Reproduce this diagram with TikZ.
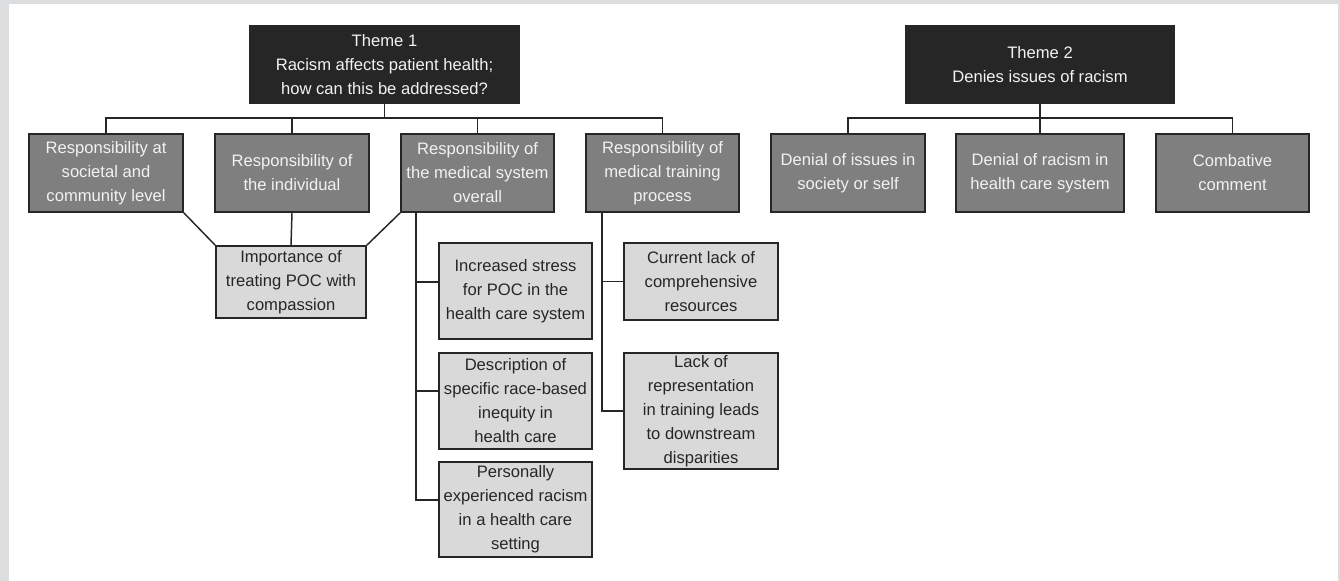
\documentclass[tikz,border=0pt]{standalone}
\usepackage{fontspec}
\setmainfont{Liberation Sans}
\usetikzlibrary{calc}
\definecolor{bgray}{HTML}{DCDDDF}
\definecolor{themefill}{HTML}{262626}
\definecolor{midfill}{HTML}{7F7F7F}
\definecolor{lightfill}{HTML}{D9D9D9}
\definecolor{bordc}{HTML}{262626}
\definecolor{darktext}{HTML}{262626}
\definecolor{lighttext}{HTML}{F2F2F2}
\tikzset{
  wh/.style 2 args={minimum width=#1*0.75pt, minimum height=#2*0.75pt},
  basebox/.style={draw=bordc, line width=1.4pt, inner sep=0pt, align=center,
    font=\fontsize{12.45pt}{18pt}\selectfont},
  themebox/.style={basebox, fill=themefill, text=lighttext},
  midbox/.style={basebox, fill=midfill, text=lighttext},
  leafbox/.style={basebox, fill=lightfill, text=darktext},
  conn/.style={draw=bordc, line width=1.1pt}
}
\begin{document}
\begin{tikzpicture}[x=0.75pt, y=-0.75pt]
\useasboundingbox (0,0) rectangle (1340,581);
\fill[bgray] (0,0) rectangle (1340,581);
\fill[white] (9,4) rectangle (1338,581);

% Theme 1
\node[themebox, wh={269}{77}] (T1) at (384.5,64.5) {Theme 1\\Racism affects patient health;\\how can this be addressed?};
\node[midbox, wh={154}{78}] (A) at (106,173) {Responsibility at\\societal and\\community level};
\node[midbox, wh={154}{78}] (B) at (292,173) {Responsibility of\\the individual};
\node[midbox, wh={153}{78}] (C) at (477.5,173) {Responsibility of\\the medical system\\overall};
\node[midbox, wh={153}{78}] (D) at (662.5,173) {Responsibility of\\medical training\\process};

\node[leafbox, wh={150}{72}] (I) at (291,282) {Importance of\\treating POC with\\compassion};

\node[leafbox, wh={153}{96}] (S1) at (515.5,291) {Increased stress\\for POC in the\\health care system};
\node[leafbox, wh={153}{96}] (S2) at (515.5,401) {Description of\\specific race-based\\inequity in\\health care};
\node[leafbox, wh={153}{95}] (S3) at (515.5,509.5) {Personally\\experienced racism\\in a health care\\setting};

\node[leafbox, wh={154}{77}] (R1) at (701,281.5) {Current lack of\\comprehensive\\resources};
\node[leafbox, wh={154}{116}] (R2) at (701,411) {Lack of\\representation\\in training leads\\to downstream\\disparities};

% Theme 2
\node[themebox, wh={268}{77}] (T2) at (1040,64.5) {Theme 2\\Denies issues of racism};
\node[midbox, wh={154}{78}] (E) at (848,173) {Denial of issues in\\society or self};
\node[midbox, wh={168}{78}] (F) at (1040,173) {Denial of racism in\\health care system};
\node[midbox, wh={153}{78}] (G) at (1232.5,173) {Combative\\comment};

% connectors theme 1
\coordinate (b1) at (384.5,118);
\draw[conn] (T1.south) -- (b1);
\draw[conn] (A.north) |- (b1);
\draw[conn] (B.north) |- (b1);
\draw[conn] (C.north) |- (b1);
\draw[conn] (D.north) |- (b1);

\draw[conn] (A.south east) -- (I.north west);
\draw[conn] (C.south west) -- (I.north east);
\draw[conn] (B.south) -- (I.north);

\coordinate (cv) at (416,212);
\draw[conn] (cv) |- ($(S1.west)+(0,-9)$);
\draw[conn] (cv) |- ($(S2.west)+(0,-10)$);
\draw[conn] (cv) |- ($(S3.west)+(0,-9.5)$);

\coordinate (dv) at (602,212);
\draw[conn] (dv) |- (R1.west);
\draw[conn] (dv) |- (R2.west);

% connectors theme 2
\coordinate (b2) at (1040,118);
\draw[conn] (T2.south) -- (b2);
\draw[conn] (E.north) |- (b2);
\draw[conn] (F.north) -- (b2);
\draw[conn] (G.north) |- (b2);
\end{tikzpicture}
\end{document}
